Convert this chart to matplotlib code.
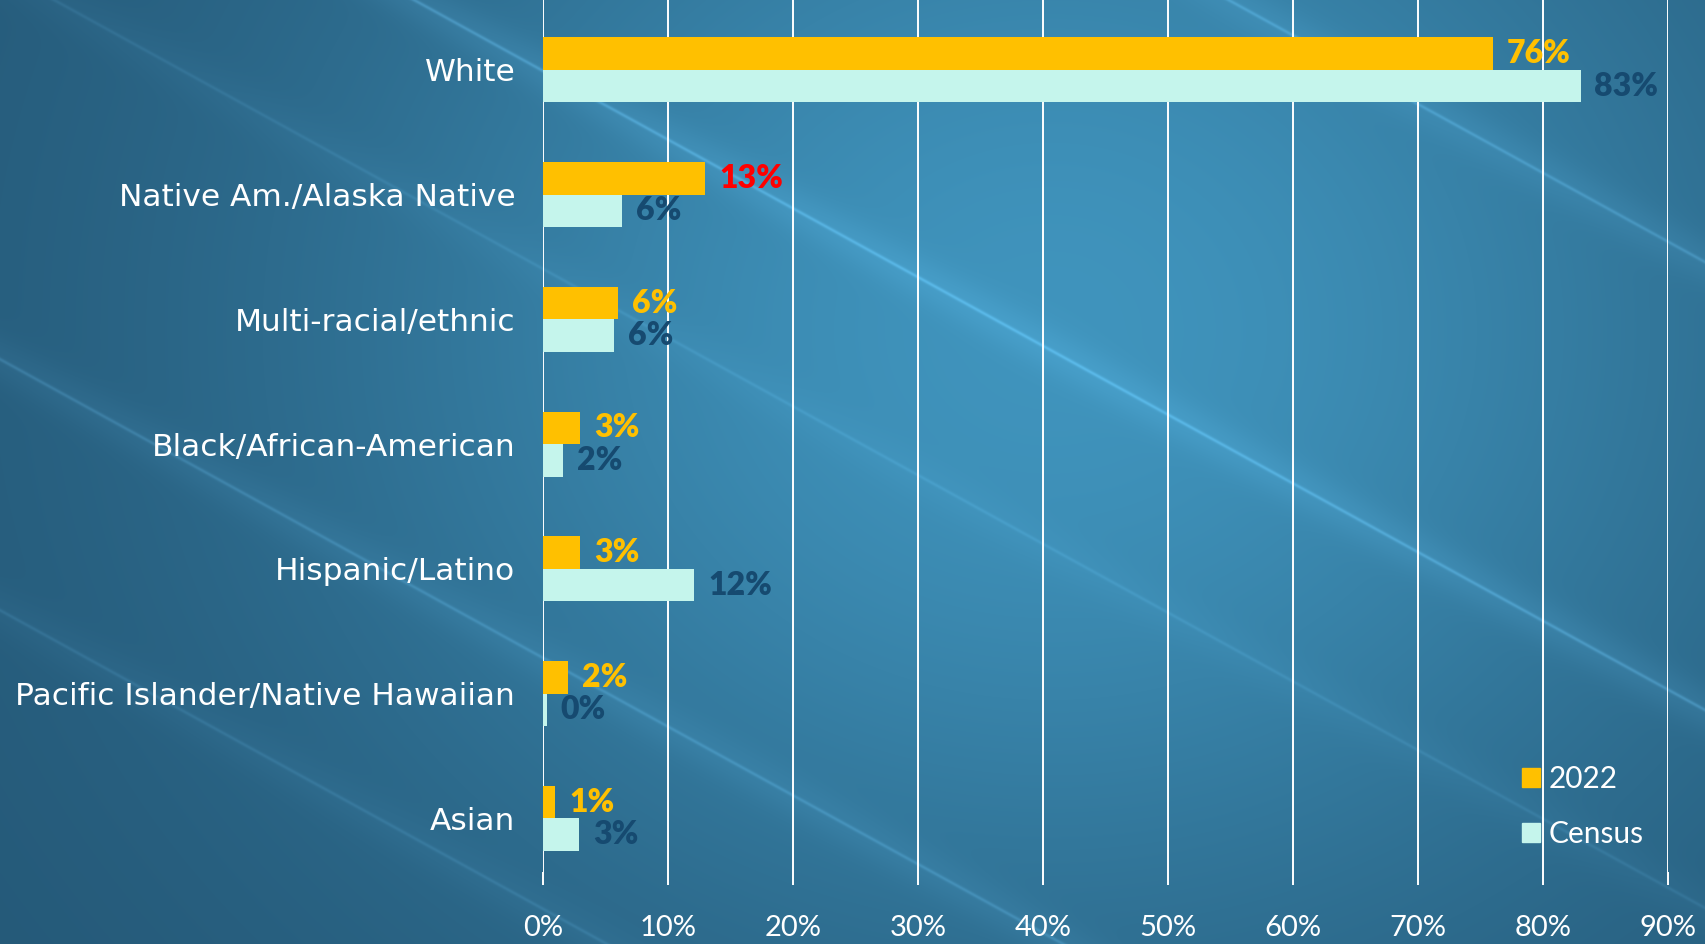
import numpy as np
import matplotlib
matplotlib.use("Agg")
import matplotlib.pyplot as plt
from matplotlib.patches import Patch

categories = ['White', 'Native Am./Alaska Native', 'Multi-racial/ethnic',
              'Black/African-American', 'Hispanic/Latino',
              'Pacific Islander/Native Hawaiian', 'Asian']
vals_2022 = [76, 13, 6, 3, 3, 2, 1]
vals_census = [83, 6.3, 5.7, 1.6, 12.1, 0.3, 2.9]
labels_2022 = ['76%', '13%', '6%', '3%', '3%', '2%', '1%']
labels_census = ['83%', '6%', '6%', '2%', '12%', '0%', '3%']
xticks = list(range(0, 100, 10))

c_2022 = '#FFC000'
c_census = '#C5F5EC'
c_census_txt = '#164A70'

plt.rcParams['font.family'] = ['Lato', 'DejaVu Sans']

W, H = 1706, 944
fig = plt.figure(figsize=(W / 100, H / 100), dpi=100)

# background: blue gradient with faint diagonal streaks
bg = fig.add_axes([0, 0, 1, 1])
bg.axis('off')
yy, xx = np.mgrid[0:H, 0:W].astype(float)
glow = np.exp(-((xx - 1050) / 750) ** 2 - ((yy - 330) / 650) ** 2)
dark = np.array([0.14, 0.34, 0.46])
light = np.array([0.25, 0.58, 0.74])
img = dark + (light - dark) * glow[..., None]
d = yy - 0.55 * xx
for c, a in [(-228, 0.12), (-676, 0.1), (359, 0.09), (610, 0.06), (-30, 0.05)]:
    line = a * np.exp(-((d - c) / 2.0) ** 2) + 0.4 * a * np.exp(-((d - c) / 25) ** 2)
    img = img + line[..., None] * np.array([0.6, 0.85, 1.0])
img = np.clip(img, 0, 1)
bg.imshow(img, extent=[0, 1, 0, 1], aspect='auto', transform=bg.transAxes)

ax = fig.add_axes([543 / W, 1 - 872 / H, (1668 - 543) / W, 872 / H])
ax.patch.set_alpha(0)

y = np.arange(len(categories))[::-1]
h = 0.26
ax.barh(y + h / 2, vals_2022, height=h, color=c_2022, zorder=3, label='2022')
ax.barh(y - h / 2, vals_census, height=h, color=c_census, zorder=3, label='Census')

for yi, v, lab in zip(y, vals_2022, labels_2022):
    col = '#FF0000' if lab == '13%' else c_2022
    ax.annotate(lab, (v, yi + h / 2), xytext=(10, 0), textcoords='offset points',
                va='center', ha='left', color=col, fontsize=23, fontweight='heavy', zorder=4)
for yi, v, lab in zip(y, vals_census, labels_census):
    ax.annotate(lab, (v, yi - h / 2), xytext=(10, 0), textcoords='offset points',
                va='center', ha='left', color=c_census_txt, fontsize=23, fontweight='heavy', zorder=4)

ax.set_xlim(0, 90)
ax.set_ylim(-0.43, 6.56)
ax.set_xticks(xticks)
ax.set_xticklabels([f'{t}%' for t in xticks])
ax.set_yticks(y)
ax.set_yticklabels(categories, family=['DejaVu Sans'], fontsize=22.5)
ax.grid(axis='x', color='white', linewidth=1.4, zorder=1)
for s in ax.spines.values():
    s.set_visible(False)
ax.tick_params(axis='x', colors='white', length=9, width=1.4, pad=22, labelsize=21)
ax.tick_params(axis='y', length=0, pad=20, labelcolor='white')

handles = [Patch(color=c_2022), Patch(color=c_census)]
fig.legend(handles, ['2022', 'Census'], loc='upper left',
           bbox_to_anchor=(1495 / W, 1 - 738 / H), frameon=False,
           fontsize=21.5, labelcolor='white', handlelength=0.6, handleheight=0.6,
           handletextpad=0.3, labelspacing=0.9)

fig.savefig('out.png', dpi=100)
